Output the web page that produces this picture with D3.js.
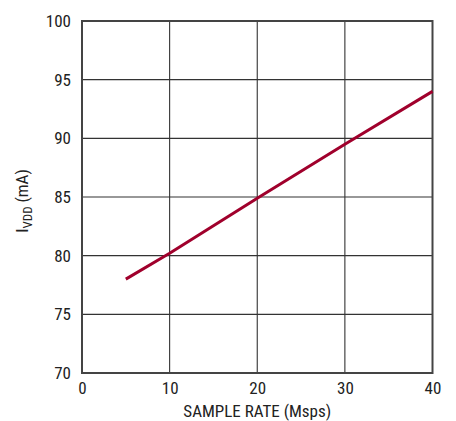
<!DOCTYPE html>
<html><head><meta charset="utf-8">
<script src="https://cdn.jsdelivr.net/npm/d3@7"></script>
<style>
html,body{margin:0;padding:0;background:#fff;}
svg text{font-family:"Liberation Sans Narrow","Roboto Condensed","Liberation Sans",Arial,sans-serif;fill:#222;}
</style></head>
<body>
<svg id="c" width="456" height="421"></svg>
<script>
const sampleRate = [5, 10, 20, 30, 40];
const iVdd = [78.0, 80.2, 84.9, 89.5, 94.0];
const xTicks = [0, 10, 20, 30, 40];
const yTicks = [70, 75, 80, 85, 90, 95, 100];

const svg = d3.select("#c");
const L = 82, R = 432.5, T = 21, B = 373;
const x = d3.scaleLinear().domain([0, 40]).range([L, R]);
const y = d3.scaleLinear().domain([70, 100]).range([B, T]);

// gridlines
svg.append("g").selectAll("line").data(xTicks.slice(1, -1)).join("line")
  .attr("x1", d => x(d)).attr("x2", d => x(d)).attr("y1", T).attr("y2", B)
  .attr("stroke", "#333").attr("stroke-width", 1.1);
svg.append("g").selectAll("line").data(yTicks.slice(1, -1)).join("line")
  .attr("y1", d => y(d)).attr("y2", d => y(d)).attr("x1", L).attr("x2", R)
  .attr("stroke", "#333").attr("stroke-width", 1.1);

// frame
svg.append("rect").attr("x", L).attr("y", T).attr("width", R - L).attr("height", B - T)
  .attr("fill", "none").attr("stroke", "#444").attr("stroke-width", 2);

const xAxis = svg.append("g").attr("transform", `translate(0,${B})`)
  .call(d3.axisBottom(x).tickValues(xTicks).tickSize(0).tickPadding(9));
xAxis.select(".domain").remove();
xAxis.selectAll("text").attr("font-size", 17).attr("fill", "#222")
  .style("font-family", '"Liberation Sans Narrow","Roboto Condensed",Arial,sans-serif');

const yAxis = svg.append("g").attr("transform", `translate(${L},0)`)
  .call(d3.axisLeft(y).tickValues(yTicks).tickSize(0).tickPadding(11));
yAxis.select(".domain").remove();
yAxis.selectAll("text").attr("font-size", 17).attr("fill", "#222")
  .style("font-family", '"Liberation Sans Narrow","Roboto Condensed",Arial,sans-serif');

// data line
const line = d3.line().x((d, i) => x(sampleRate[i])).y(d => y(d));
svg.append("path").datum(iVdd).attr("d", line)
  .attr("fill", "none").attr("stroke", "#a0002c").attr("stroke-width", 3)
  .attr("stroke-linejoin", "round");

// axis titles
svg.append("text").attr("x", (L + R) / 2).attr("y", 417).attr("text-anchor", "middle")
  .attr("font-size", 17).text("SAMPLE RATE (Msps)");

const yt = svg.append("text").attr("transform", `translate(28,${(T + B) / 2 + 4}) rotate(-90)`)
  .attr("text-anchor", "middle").attr("font-size", 17);
yt.append("tspan").text("I");
yt.append("tspan").attr("font-size", 13).attr("dy", 4).text("VDD");
yt.append("tspan").attr("dy", -4).text(" (mA)");
</script>
</body></html>
